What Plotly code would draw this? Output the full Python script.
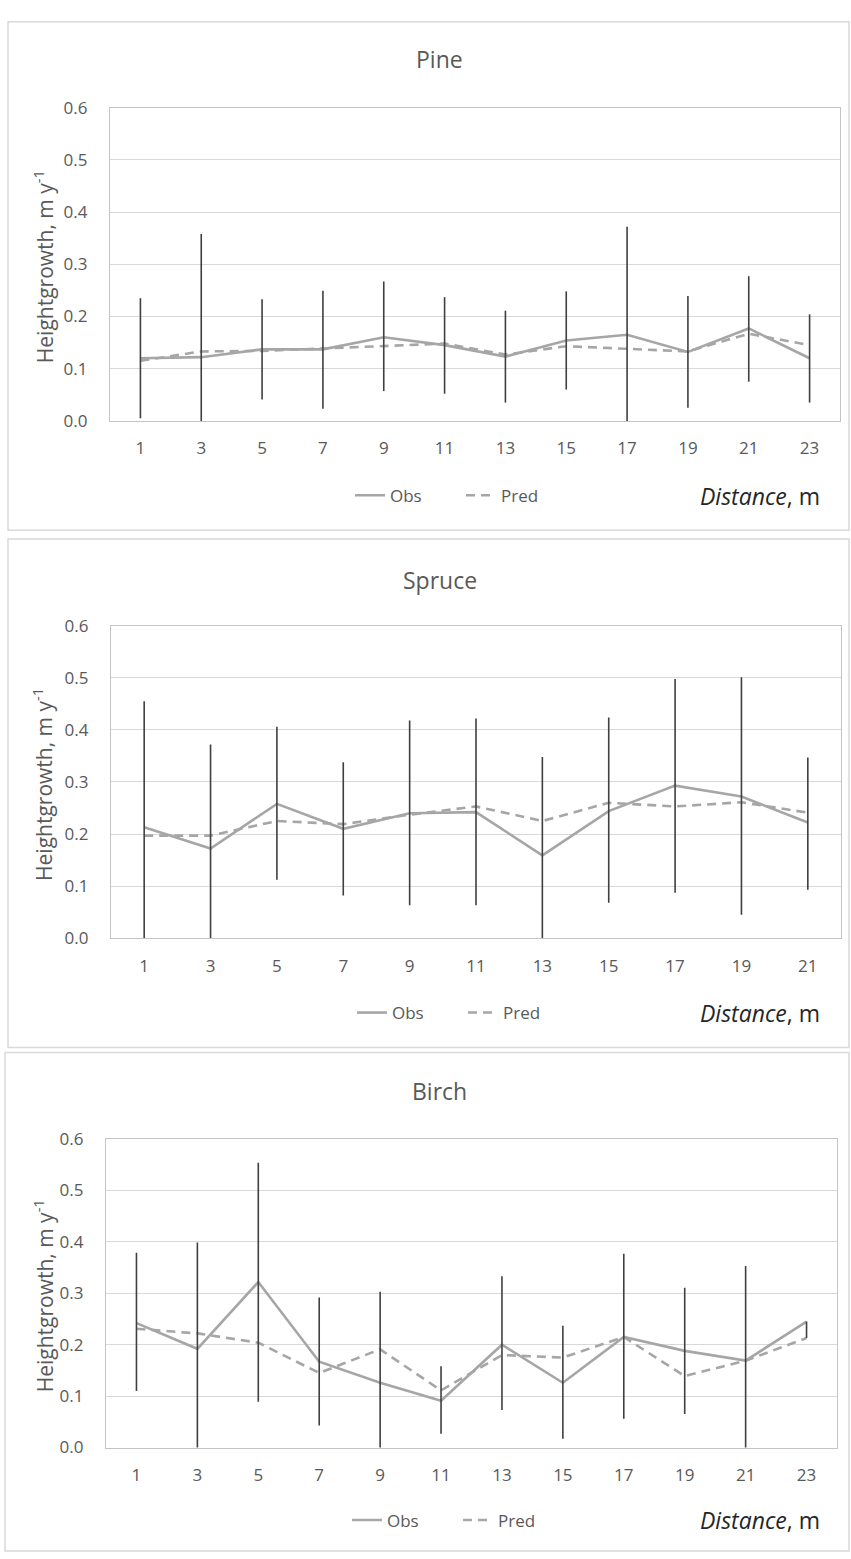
import plotly.graph_objects as go

# ---------------- data ----------------
pine_dist = ["1", "3", "5", "7", "9", "11", "13", "15", "17", "19", "21", "23"]
pine_obs = [0.120, 0.122, 0.137, 0.137, 0.160, 0.145, 0.123, 0.154, 0.165, 0.132, 0.177, 0.120]
pine_pred = [0.115, 0.133, 0.134, 0.139, 0.143, 0.148, 0.127, 0.143, 0.138, 0.133, 0.167, 0.145]
pine_err_up = [0.115, 0.236, 0.096, 0.112, 0.107, 0.092, 0.088, 0.094, 0.207, 0.107, 0.100, 0.084]
pine_err_down = [0.115, 0.236, 0.096, 0.114, 0.103, 0.093, 0.088, 0.094, 0.207, 0.107, 0.102, 0.085]

spruce_dist = ["1", "3", "5", "7", "9", "11", "13", "15", "17", "19", "21"]
spruce_obs = [0.213, 0.172, 0.258, 0.210, 0.240, 0.242, 0.159, 0.244, 0.293, 0.272, 0.222]
spruce_pred = [0.197, 0.197, 0.225, 0.219, 0.237, 0.253, 0.225, 0.260, 0.253, 0.261, 0.241]
spruce_err_up = [0.242, 0.200, 0.148, 0.128, 0.178, 0.180, 0.189, 0.180, 0.205, 0.229, 0.125]
spruce_err_down = [0.242, 0.200, 0.146, 0.128, 0.177, 0.179, 0.189, 0.176, 0.206, 0.227, 0.129]

birch_dist = ["1", "3", "5", "7", "9", "11", "13", "15", "17", "19", "21", "23"]
birch_obs = [0.242, 0.192, 0.322, 0.167, 0.126, 0.091, 0.200, 0.126, 0.215, 0.188, 0.169, 0.245]
birch_pred = [0.231, 0.222, 0.204, 0.145, 0.191, 0.111, 0.180, 0.175, 0.215, 0.139, 0.169, 0.213]
birch_err_up = [0.137, 0.207, 0.232, 0.125, 0.177, 0.067, 0.133, 0.111, 0.162, 0.123, 0.184, 0.0]
birch_err_down = [0.132, 0.207, 0.233, 0.124, 0.177, 0.064, 0.127, 0.109, 0.159, 0.123, 0.184, 0.032]

titles = ["Pine", "Spruce", "Birch"]
y_ticks = [0.0, 0.1, 0.2, 0.3, 0.4, 0.5, 0.6]

# ---------------- layout geometry ----------------
W, H = 851, 1559
FONT = "'Open Sans', 'Noto Sans', sans-serif"
TXT = "#595959"
LINE_C = "#a6a6a6"
ERR_C = "#3f3f3f"


def py(p):
    return 1 - p / H


def px(p):
    return p / W


panels = [
    dict(dist=pine_dist, obs=pine_obs, pred=pine_pred, up=pine_err_up, dn=pine_err_down,
         x0=110, x1=840, y0=97, y1=415, title_y=48, leg_y=491, leg_x=350, box=(8, 10, 849, 526)),
    dict(dist=spruce_dist, obs=spruce_obs, pred=spruce_pred, up=spruce_err_up, dn=spruce_err_down,
         x0=111, x1=841, y0=623, y1=940, title_y=577, leg_y=1016, leg_x=352, box=(8, 535, 849, 1051)),
    dict(dist=birch_dist, obs=birch_obs, pred=birch_pred, up=birch_err_up, dn=birch_err_down,
         x0=106, x1=837, y0=1144, y1=1457, title_y=1095, leg_y=1531, leg_x=347, box=(5, 1056, 849, 1562)),
]

fig = go.Figure()
layout = dict(
    width=W, height=H, margin=dict(l=0, r=0, t=0, b=0),
    paper_bgcolor="white", plot_bgcolor="white",
    font=dict(family=FONT, color=TXT, size=17),
    annotations=[], shapes=[],
)

for i, p in enumerate(panels):
    n = "" if i == 0 else str(i + 1)
    xa, ya = "x" + n, "y" + n
    leg = "legend" + n
    fig.add_trace(go.Scatter(
        x=p["dist"], y=p["obs"], mode="lines", name="Obs",
        line=dict(color=LINE_C, width=2.6), xaxis=xa, yaxis=ya, legend=leg,
    ))
    fig.add_trace(go.Scatter(
        x=p["dist"], y=p["pred"], mode="lines", name="Pred",
        line=dict(color=LINE_C, width=2.6, dash="9px,6px"), xaxis=xa, yaxis=ya, legend=leg,
    ))
    fig.add_trace(go.Scatter(
        x=p["dist"], y=p["obs"], mode="markers", showlegend=False,
        marker=dict(size=1, color="rgba(0,0,0,0)"),
        error_y=dict(type="data", symmetric=False, array=p["up"], arrayminus=p["dn"],
                     color=ERR_C, thickness=1.6, width=0),
        xaxis=xa, yaxis=ya, hoverinfo="skip",
    ))
    ncat = len(p["dist"])
    layout["xaxis" + n] = dict(
        domain=[px(p["x0"]), px(p["x1"])], anchor=ya, type="category",
        range=[-0.5, ncat - 0.5], autorange=False,
        showgrid=False, showline=True, mirror=True, linecolor="#c4c4c4", linewidth=1.2,
        ticks="", tickfont=dict(size=17, color=TXT, family=FONT), ticklabelstandoff=12,
        zeroline=False,
    )
    layout["yaxis" + n] = dict(
        domain=[py(p["y1"]), py(p["y0"])], anchor=xa, range=[0, 0.6], autorange=False,
        tickvals=y_ticks, tickformat=".1f",
        showgrid=True, gridcolor="#d9d9d9", gridwidth=1,
        showline=True, mirror=True, linecolor="#c4c4c4", linewidth=1.2,
        ticks="", tickfont=dict(size=17, color=TXT, family=FONT), ticklabelstandoff=18,
        zeroline=False,
    )
    layout[leg] = dict(
        orientation="h", x=px(p["leg_x"]), y=py(p["leg_y"]), xanchor="left", yanchor="middle",
        font=dict(size=17, color=TXT, family=FONT), bgcolor="rgba(0,0,0,0)",
        entrywidth=66, tracegroupgap=0,
    )
    layout["annotations"].append(dict(
        text=titles[i], x=0.517, y=py(p["title_y"]), xref="paper", yref="paper",
        showarrow=False, font=dict(size=23, color=TXT, family=FONT), xanchor="center", yanchor="middle",
    ))
    layout["annotations"].append(dict(
        text="Heightgrowth, m y<sup>-1</sup>", x=px(43), y=py((p["y0"] + p["y1"]) / 2 + 3),
        xref="paper", yref="paper", textangle=-90, showarrow=False,
        font=dict(size=21, color=TXT, family=FONT), xanchor="center", yanchor="middle",
    ))
    layout["annotations"].append(dict(
        text="<i>Distance</i>, m", x=px(822), y=py(p["leg_y"]), xref="paper", yref="paper",
        showarrow=False, font=dict(size=23, color="#262626", family=FONT),
        xanchor="right", yanchor="middle",
    ))
    bx0, by0, bx1, by1 = p["box"]
    layout["shapes"].append(dict(
        type="rect", xref="paper", yref="paper", x0=px(bx0), x1=px(bx1), y0=py(by1), y1=py(by0),
        line=dict(color="#d9d9d9", width=1.5), fillcolor="rgba(0,0,0,0)", layer="below",
    ))

fig.update_layout(**layout)
fig.write_html("out.html")
